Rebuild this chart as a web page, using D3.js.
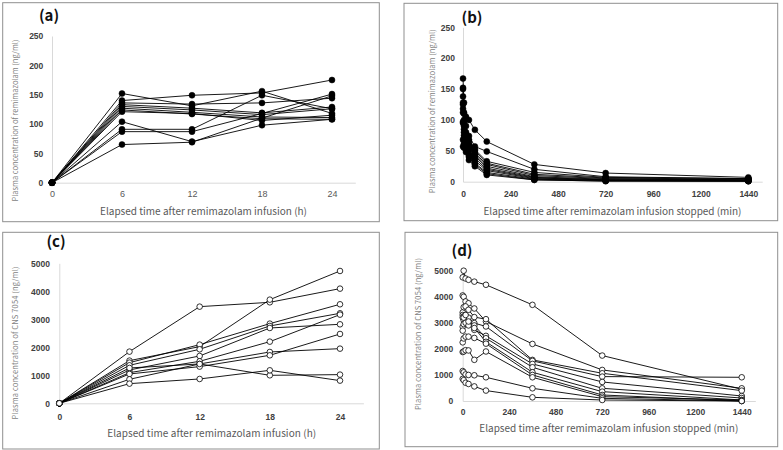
<!DOCTYPE html>
<html><head><meta charset="utf-8">
<script src="https://cdn.jsdelivr.net/npm/d3@7"></script>
<style>body{margin:0;background:#fff} svg{display:block}</style>
</head><body><svg id="c" width="783" height="450"></svg>
<script>
// ---- data ----
const hoursX = [0, 6, 12, 18, 24];
const minutesX = [0, 5, 15, 30, 60, 120, 360, 720, 1440];

// (a) remimazolam during infusion (ng/ml)
const remiInfusion = [
  [0, 152, 131, 156, 118],
  [0, 140, 149, 153, 175],
  [0, 136, 134, 136, 144],
  [0, 133, 127, 119, 129],
  [0, 130, 124, 116, 126],
  [0, 127, 120, 112, 111],
  [0, 124, 117, 109, 108],
  [0, 121, 118, 106, 115],
  [0, 104, 70, 98, 108],
  [0, 91, 91, 149, 126],
  [0, 87, 87, 118, 151],
  [0, 65, 69, 110, 148]
];
// (b) remimazolam after infusion stopped (ng/ml)
const remiStopped = [
  [118, 112, 105, 100, 84, 65, 28, 14, 7],
  [167, 128, 90, 74, 57, 49, 20, 8, 5],
  [152, 110, 80, 68, 52, 33, 15, 7, 5],
  [150, 100, 75, 65, 50, 30, 12, 6, 4],
  [138, 95, 72, 60, 46, 28, 10, 5, 3],
  [128, 90, 70, 58, 44, 25, 8, 4, 3],
  [125, 85, 65, 55, 42, 22, 7, 3, 2],
  [112, 80, 62, 50, 38, 20, 6, 3, 2],
  [97, 75, 60, 45, 34, 18, 5, 2, 1],
  [95, 70, 55, 42, 30, 15, 4, 2, 1],
  [68, 62, 52, 40, 28, 13, 3, 1, 1],
  [57, 55, 48, 35, 25, 11, 3, 1, 1]
];
// (c) CNS 7054 during infusion (ng/ml)
const cnsInfusion = [
  [0, 1845, 3452, 3607, 4095],
  [0, 1524, 2024, 3702, 4726],
  [0, 1452, 2095, 2845, 3536],
  [0, 1357, 1929, 2762, 3214],
  [0, 1190, 1690, 2690, 2821],
  [0, 1095, 1500, 2202, 3167],
  [0, 1262, 1405, 1833, 1952],
  [0, 1048, 1310, 1714, 2476],
  [0, 857, 1405, 1000, 1024],
  [0, 702, 869, 1178, 810]
];
// (d) CNS 7054 after infusion stopped (ng/ml)
const cnsStopped = [
  [4745, 5000, 4700, 4650, 4580, 4460, 3690, 1744, 449],
  [4050, 4000, 3820, 3750, 3550, 3050, 2190, 1192, 487],
  [3400, 3600, 3630, 3500, 3220, 3140, 1577, 1064, 397],
  [3300, 3250, 3240, 3200, 2990, 2860, 1540, 936, 910],
  [3200, 3100, 3050, 3000, 2730, 2500, 1423, 731, 192],
  [2850, 2950, 3000, 2900, 2900, 2410, 1295, 487, 115],
  [2700, 3200, 3300, 3050, 2800, 2270, 1103, 359, 38],
  [2250, 2400, 2470, 2470, 2420, 2200, 1000, 231, 0],
  [1880, 1900, 1950, 1940, 1580, 1900, 910, 167, 38],
  [1150, 1100, 1020, 1000, 987, 910, 487, 103, 0],
  [850, 800, 700, 654, 560, 400, 141, 38, 0]
];

const yTicksRemi = [0, 50, 100, 150, 200, 250];
const yTicksCns = [0, 1000, 2000, 3000, 4000, 5000];
const xTicksHours = [0, 6, 12, 18, 24];
const xTicksMinutes = [0, 240, 480, 720, 960, 1200, 1440];

const panelLabels = ["(a)", "(b)", "(c)", "(d)"];
const xTitles = [
  "Elapsed time after remimazolam infusion (h)",
  "Elapsed time after remimazolam infusion stopped (min)",
  "Elapsed time after remimazolam infusion (h)",
  "Elapsed time after remimazolam infusion stopped (min)"
];
const yTitles = [
  "Plasma concentration of remimazolam (ng/ml)",
  "Plasma concentration of remimazolam (ng/ml)",
  "Plasma concentration of CNS 7054 (ng/ml)",
  "Plasma concentration of CNS 7054 (ng/ml)"
];

// ---- layout ----
const panels = [
  {data: remiInfusion, xs: hoursX, xDom: [0, 26], xR: [52, 355.3], yDom: [0, 250], yR: [182.7, 36],
   yTicks: yTicksRemi, xTicks: xTicksHours, filled: true,
   box: [2.7, 2.7, 379.3, 221.7], lab: [49, 21], xt: [203.5, 215, 207], yt: [15, 120.5, 162],
   yPad: 8.7, xBase: 14.2, xTickBold: false},
  {data: remiStopped, xs: minutesX, xDom: [0, 1510], xR: [463, 762.2], yDom: [0, 250], yR: [181.7, 27.3],
   yTicks: yTicksRemi, xTicks: xTicksMinutes, filled: true,
   box: [404, 3.3, 777.7, 220.7], lab: [472, 23], xt: [612.5, 215, 258], yt: [432, 111.3, 164],
   yPad: 8, xBase: 15, xTickBold: true},
  {data: cnsInfusion, xs: hoursX, xDom: [0, 26], xR: [59.3, 363.4], yDom: [0, 5000], yR: [403.3, 263.3],
   yTicks: yTicksCns, xTicks: xTicksHours, filled: false,
   box: [2.7, 232.3, 379.3, 449], lab: [56, 247], xt: [211.7, 437, 209], yt: [15, 343, 153],
   yPad: 9.3, xBase: 16.7, xTickBold: true},
  {data: cnsStopped, xs: minutesX, xDom: [0, 1510], xR: [462.7, 755.3], yDom: [0, 5000], yR: [401, 270.7],
   yTicks: yTicksCns, xTicks: xTicksMinutes, filled: false,
   box: [405, 232.3, 777.7, 446.7], lab: [462, 256], xt: [608.8, 432, 259], yt: [418, 334, 152],
   yPad: 9.5, xBase: 14, xTickBold: true}
];

const svg = d3.select("#c");
svg.append("rect").attr("width", 783).attr("height", 450).attr("fill", "#fff");
const FONT = "'Liberation Sans', Arial, sans-serif";
const TFONT = "'Noto Sans CJK JP', 'Noto Sans', sans-serif";
const fmt = d3.format("d");

panels.forEach((p, i) => {
  const g = svg.append("g");
  // border
  g.append("rect").attr("x", p.box[0]).attr("y", p.box[1])
    .attr("width", p.box[2] - p.box[0]).attr("height", p.box[3] - p.box[1])
    .attr("fill", "none").attr("stroke", "#8f8f8f").attr("stroke-width", 1);

  const x = d3.scaleLinear().domain(p.xDom).range(p.xR);
  const y = d3.scaleLinear().domain(p.yDom).range(p.yR);

  // y axis
  const ya = g.append("g").attr("transform", `translate(${p.xR[0]},0)`)
    .call(d3.axisLeft(y).tickValues(p.yTicks).tickFormat(fmt).tickSize(0).tickSizeOuter(0).tickPadding(p.yPad));
  ya.select(".domain").attr("stroke", "#d9d9d9").attr("stroke-width", 1);
  ya.selectAll("text").attr("font-family", FONT).attr("font-size", 8.5).attr("font-weight", "bold")
    .attr("fill", "#404040");

  // x axis
  const xa = g.append("g").attr("transform", `translate(0,${p.yR[0]})`)
    .call(d3.axisBottom(x).tickValues(p.xTicks).tickFormat(fmt).tickSize(0).tickSizeOuter(0));
  xa.select(".domain").attr("stroke", "#d9d9d9").attr("stroke-width", 1);
  xa.selectAll("text").attr("y", p.xBase).attr("dy", 0)
    .attr("font-family", FONT).attr("font-size", p.xTickBold ? 8.5 : 9)
    .attr("font-weight", p.xTickBold ? "bold" : "normal")
    .attr("fill", p.xTickBold ? "#404040" : "#595959");

  // lines
  const line = d3.line().x((d, j) => x(p.xs[j])).y(d => y(d));
  g.append("g").selectAll("path").data(p.data).join("path")
    .attr("d", d => line(d)).attr("fill", "none").attr("stroke", "#000").attr("stroke-width", 0.9);

  // markers
  const pts = [];
  p.data.forEach(s => s.forEach((v, j) => pts.push([p.xs[j], v])));
  g.append("g").selectAll("circle").data(pts).join("circle")
    .attr("cx", d => x(d[0])).attr("cy", d => y(d[1]))
    .attr("r", p.filled ? 3 : 2.8)
    .attr("fill", p.filled ? "#000" : "#fff")
    .attr("stroke", "#000").attr("stroke-width", p.filled ? 0.5 : 0.8);

  // panel label
  g.append("text").attr("x", p.lab[0]).attr("y", p.lab[1]).attr("text-anchor", "middle")
    .attr("font-family", TFONT).attr("font-size", 15).attr("font-weight", "bold").attr("fill", "#111")
    .text(panelLabels[i]);

  // x title
  g.append("text").attr("x", p.xt[0]).attr("y", p.xt[1]).attr("text-anchor", "middle")
    .attr("font-family", TFONT).attr("font-size", 10).attr("fill", "#595959")
    .attr("textLength", p.xt[2]).attr("lengthAdjust", "spacing")
    .text(xTitles[i]);

  // y title
  g.append("text").attr("transform", `translate(${p.yt[0] + 3},${p.yt[1]}) rotate(-90)`)
    .attr("text-anchor", "middle")
    .attr("font-family", TFONT).attr("font-size", 7.5).attr("fill", "#7f7f7f")
    .attr("textLength", p.yt[2]).attr("lengthAdjust", "spacing")
    .text(yTitles[i]);
});
</script></body></html>
